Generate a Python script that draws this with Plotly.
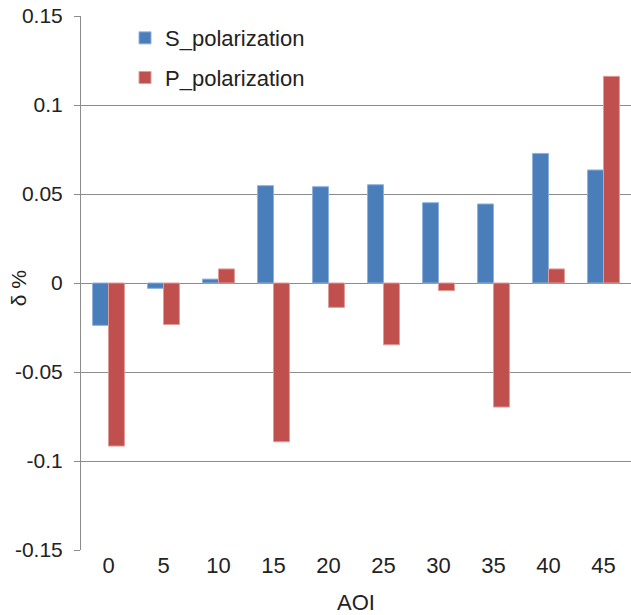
import plotly.graph_objects as go

aoi = ["0", "5", "10", "15", "20", "25", "30", "35", "40", "45"]
s_polarization = [-0.0238, -0.003, 0.0022, 0.0547, 0.0541, 0.0552, 0.0451, 0.0444, 0.0728, 0.0635]
p_polarization = [-0.0916, -0.0233, 0.0079, -0.0892, -0.0137, -0.0347, -0.0043, -0.0697, 0.0079, 0.1161]
y_ticks = [-0.15, -0.1, -0.05, 0, 0.05, 0.1, 0.15]
y_ticktext = ["-0.15", "-0.1", "-0.05", "0", "0.05", "0.1", "0.15"]

FONT = "Liberation Sans, Arial, sans-serif"
GRID = "#8c8c8c"

fig = go.Figure()
fig.add_trace(go.Bar(
    x=aoi, y=s_polarization, name="S_polarization", legendgroup="s",
    marker=dict(color="#4a7ebb", line=dict(color="#8fb0de", width=1)),
))
fig.add_trace(go.Bar(
    x=aoi, y=p_polarization, name="P_polarization", legendgroup="p",
    marker=dict(color="#c0504d", line=dict(color="#e09a98", width=1)),
))

fig.update_layout(
    width=631, height=615,
    margin=dict(l=81, r=0, t=16, b=65, autoexpand=False),
    paper_bgcolor="white", plot_bgcolor="white",
    font=dict(family=FONT, size=21, color="#222222"),
    barmode="group", bargap=0.42, bargroupgap=0,
    showlegend=True,
    legend=dict(
        x=0.08, y=0.998, xanchor="left", yanchor="top",
        bgcolor="rgba(0,0,0,0)", font=dict(size=22),
        tracegroupgap=8,
    ),
    xaxis=dict(
        type="category", range=[-0.5, 9.5], automargin=False,
        showline=False, ticks="", showgrid=False, zeroline=False,
        title=dict(text="AOI", font=dict(size=22), standoff=21),
        tickfont=dict(size=22),
    ),
    xaxis2=dict(
        overlaying="x", anchor="free", position=0.5, automargin=False,
        type="linear", range=[-0.5, 9.5],
        tickvals=[0.5, 1.5, 2.5, 3.5, 4.5, 5.5, 6.5, 7.5, 8.5],
        ticks="outside", ticklen=7, tickcolor=GRID,
        showticklabels=False, showgrid=False, showline=False, zeroline=False,
    ),
    yaxis=dict(
        range=[-0.15, 0.15], tickvals=y_ticks, ticktext=y_ticktext,
        automargin=False,
        showgrid=True, gridcolor=GRID, gridwidth=1,
        zeroline=True, zerolinecolor=GRID, zerolinewidth=1,
        showline=True, linecolor=GRID, linewidth=1,
        ticks="outside", ticklen=6, tickcolor=GRID, ticklabelstandoff=7,
        tickfont=dict(size=21),
    ),
)

# y title sits closer to the tick labels than plotly allows, so use an annotation
fig.add_annotation(
    text="δ %", textangle=-90, showarrow=False,
    xref="paper", yref="paper", x=0, y=0.49,
    xanchor="center", yanchor="middle", xshift=-63,
    font=dict(size=21),
)

# drop the default 8px body margin so the figure fills the window
fig.write_html(
    "out.html",
    config={"displayModeBar": False},
    post_script="document.body.style.margin='0';",
)
